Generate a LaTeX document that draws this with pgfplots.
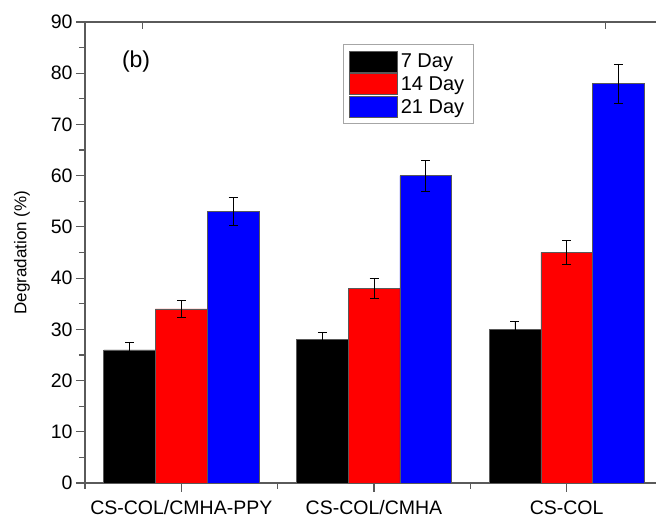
\documentclass[border=0pt]{standalone}
\usepackage{pgfplots}
\pgfplotsset{compat=1.18}
\usepackage{fontspec}
\setmainfont{Liberation Sans}
\definecolor{axgray}{RGB}{90,90,90}
\begin{document}
\begin{tikzpicture}
\path[use as bounding box] (-85pt,-36pt) rectangle (571pt,483pt);
\clip (-85pt,-36pt) rectangle (571pt,483pt);
\begin{axis}[
  at={(0pt,0pt)}, anchor=south west,
  scale only axis, width=578pt, height=461pt,
  xmin=-0.5, xmax=2.5, ymin=0, ymax=90,
  ybar=0pt, bar width=51.7pt,
  xtick={0,1,2},
  xticklabels={CS-COL/CMHA-PPY, CS-COL/CMHA, CS-COL},
  minor xtick={-0.5,0.5,1.5},
  ytick={0,10,...,90}, minor ytick={5,15,...,85},
  xtick pos=bottom, ytick pos=left,
  tick align=outside,
  major tick length=9pt, minor tick length=6pt,
  every tick/.style={axgray, line width=1.2pt},
  axis line style={axgray, line width=1.3pt},
  tick label style={font=\fontsize{19.5}{22}\selectfont},
  xticklabel style={yshift=-5pt},
  /pgf/number format/assume math mode=true,
  ylabel={Degradation (\%)},
  ylabel shift=14pt,
  ylabel style={font=\fontsize{17}{20}\selectfont},
  legend style={at={(rel axis cs:0.446,0.952)}, anchor=north west,
    draw=gray!70, line width=0.8pt, inner xsep=6pt, inner ysep=6pt,
    font=\fontsize{20}{23}\selectfont, row sep=1pt,
    nodes={inner xsep=3pt, inner ysep=1pt, anchor=west}},
  legend image code/.code={\fill[#1] (0pt,-10pt) rectangle (48pt,11pt);},
  error bars/y dir=both, error bars/y explicit,
  error bars/error bar style={black, line width=0.8pt},
  error bars/error mark options={rotate=90, black, mark size=4.5pt, line width=0.8pt},
]
\addplot[fill=black, draw=gray!70!black, line width=0.6pt]
  coordinates {(0,26) +- (0,1.4) (1,28) +- (0,1.4) (2,30) +- (0,1.5)};
\addplot[fill=red, draw=gray!70!black, line width=0.6pt]
  coordinates {(0,34) +- (0,1.7) (1,38) +- (0,2.0) (2,45) +- (0,2.3)};
\addplot[fill=blue, draw=gray!70!black, line width=0.6pt]
  coordinates {(0,53) +- (0,2.7) (1,60) +- (0,3.0) (2,78) +- (0,3.8)};
\legend{7 Day, 14 Day, 21 Day}
\node[font=\fontsize{23}{26}\selectfont] at (axis cs:-0.235,82.2) {(b)};
\end{axis}
\begin{axis}[
  at={(0pt,0pt)}, anchor=south west,
  scale only axis, width=578pt, height=461pt,
  xmin=-0.5, xmax=2.5, ymin=0, ymax=90,
  axis line style={draw=none},
  xtick={-0.2,2.2}, xticklabels={},
  ytick={18,36,54,72}, yticklabels={},
  xtick pos=top, ytick pos=right, tick align=inside,
  major tick length=7pt,
  every tick/.style={axgray, line width=1.2pt},
]
\end{axis}
\end{tikzpicture}
\end{document}
